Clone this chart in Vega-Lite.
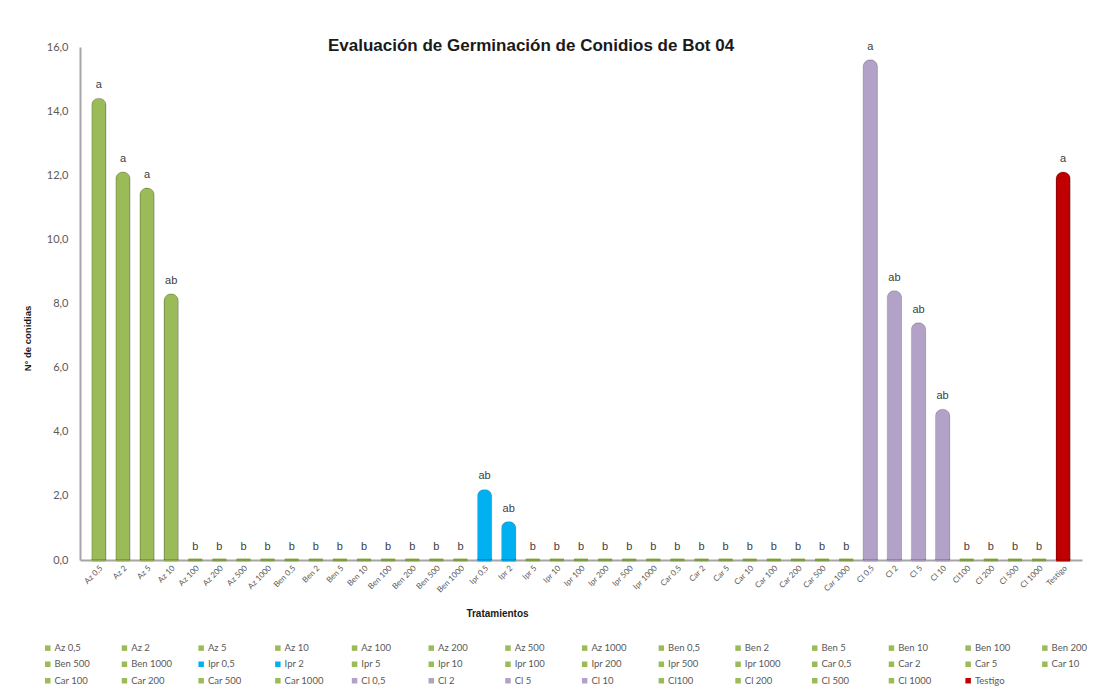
{
  "$schema": "https://vega.github.io/schema/vega-lite/v6.json",
  "autosize": "none",
  "width": 1002,
  "height": 513,
  "padding": {"left": 80, "top": 47, "right": 17, "bottom": 131},
  "background": "white",
  "title": {
    "text": "Evaluación de Germinación de Conidios de Bot 04",
    "font": "Liberation Sans",
    "fontSize": 17,
    "fontWeight": "bold",
    "color": "#1a1a1a",
    "anchor": "middle",
    "dx": -50,
    "offset": -14
  },
  "data": {
    "values": [
      {"t": "Az 0,5", "v": 14.4, "lab": "a"},
      {"t": "Az 2", "v": 12.1, "lab": "a"},
      {"t": "Az 5", "v": 11.6, "lab": "a"},
      {"t": "Az 10", "v": 8.3, "lab": "ab"},
      {"t": "Az 100", "v": 0, "lab": "b"},
      {"t": "Az 200", "v": 0, "lab": "b"},
      {"t": "Az 500", "v": 0, "lab": "b"},
      {"t": "Az 1000", "v": 0, "lab": "b"},
      {"t": "Ben 0,5", "v": 0, "lab": "b"},
      {"t": "Ben 2", "v": 0, "lab": "b"},
      {"t": "Ben 5", "v": 0, "lab": "b"},
      {"t": "Ben 10", "v": 0, "lab": "b"},
      {"t": "Ben 100", "v": 0, "lab": "b"},
      {"t": "Ben 200", "v": 0, "lab": "b"},
      {"t": "Ben 500", "v": 0, "lab": "b"},
      {"t": "Ben 1000", "v": 0, "lab": "b"},
      {"t": "Ipr 0,5", "v": 2.2, "lab": "ab"},
      {"t": "Ipr 2", "v": 1.2, "lab": "ab"},
      {"t": "Ipr 5", "v": 0, "lab": "b"},
      {"t": "Ipr 10", "v": 0, "lab": "b"},
      {"t": "Ipr 100", "v": 0, "lab": "b"},
      {"t": "Ipr 200", "v": 0, "lab": "b"},
      {"t": "Ipr 500", "v": 0, "lab": "b"},
      {"t": "Ipr 1000", "v": 0, "lab": "b"},
      {"t": "Car 0,5", "v": 0, "lab": "b"},
      {"t": "Car 2", "v": 0, "lab": "b"},
      {"t": "Car 5", "v": 0, "lab": "b"},
      {"t": "Car 10", "v": 0, "lab": "b"},
      {"t": "Car 100", "v": 0, "lab": "b"},
      {"t": "Car 200", "v": 0, "lab": "b"},
      {"t": "Car 500", "v": 0, "lab": "b"},
      {"t": "Car 1000", "v": 0, "lab": "b"},
      {"t": "Cl 0,5", "v": 15.6, "lab": "a"},
      {"t": "Cl 2", "v": 8.4, "lab": "ab"},
      {"t": "Cl 5", "v": 7.4, "lab": "ab"},
      {"t": "Cl 10", "v": 4.7, "lab": "ab"},
      {"t": "Cl100", "v": 0, "lab": "b"},
      {"t": "Cl 200", "v": 0, "lab": "b"},
      {"t": "Cl 500", "v": 0, "lab": "b"},
      {"t": "Cl 1000", "v": 0, "lab": "b"},
      {"t": "Testigo", "v": 12.1, "lab": "a"}
    ]
  },
  "encoding": {
    "x": {
      "field": "t",
      "type": "nominal",
      "sort": null,
      "scale": {"paddingInner": 0.407, "paddingOuter": 0.485},
      "axis": {
        "title": "Tratamientos",
        "titleFont": "Liberation Sans",
        "titleFontSize": 10,
        "titleFontWeight": "bold",
        "titleColor": "#1a1a1a",
        "titleX": 417,
        "titleY": 53,
        "titleBaseline": "middle",
        "titleAnchor": "middle",
        "labelAngle": -45,
        "labelFont": "Lato",
        "labelFontSize": 8,
        "labelColor": "#595959",
        "labelPadding": 4,
        "ticks": false,
        "domainColor": "#A6A6A6",
        "domainWidth": 2
      }
    },
    "y": {
      "field": "v",
      "type": "quantitative",
      "scale": {"domain": [0, 16], "nice": false},
      "axis": {
        "values": [0, 2, 4, 6, 8, 10, 12, 14, 16],
        "labelExpr": "replace(format(datum.value, '.1f'), '.', ',')",
        "title": "N° de conidias",
        "titleFont": "Liberation Sans",
        "titleFontSize": 9.5,
        "titleFontWeight": "bold",
        "titleColor": "#1a1a1a",
        "titleX": -53,
        "titleY": 291,
        "titleAngle": -90,
        "titleAlign": "center",
        "titleBaseline": "middle",
        "labelFont": "Lato",
        "labelFontSize": 11,
        "labelColor": "#595959",
        "labelPadding": 12,
        "ticks": false,
        "grid": false,
        "domainColor": "#A6A6A6",
        "domainWidth": 2
      }
    },
    "color": {
      "field": "t",
      "type": "nominal",
      "sort": null,
      "scale": {
        "domain": ["Az 0,5", "Az 2", "Az 5", "Az 10", "Az 100", "Az 200", "Az 500", "Az 1000", "Ben 0,5", "Ben 2", "Ben 5", "Ben 10", "Ben 100", "Ben 200", "Ben 500", "Ben 1000", "Ipr 0,5", "Ipr 2", "Ipr 5", "Ipr 10", "Ipr 100", "Ipr 200", "Ipr 500", "Ipr 1000", "Car 0,5", "Car 2", "Car 5", "Car 10", "Car 100", "Car 200", "Car 500", "Car 1000", "Cl 0,5", "Cl 2", "Cl 5", "Cl 10", "Cl100", "Cl 200", "Cl 500", "Cl 1000", "Testigo"],
        "range": ["#9BBB59", "#9BBB59", "#9BBB59", "#9BBB59", "#9BBB59", "#9BBB59", "#9BBB59", "#9BBB59", "#9BBB59", "#9BBB59", "#9BBB59", "#9BBB59", "#9BBB59", "#9BBB59", "#9BBB59", "#9BBB59", "#00B0F0", "#00B0F0", "#9BBB59", "#9BBB59", "#9BBB59", "#9BBB59", "#9BBB59", "#9BBB59", "#9BBB59", "#9BBB59", "#9BBB59", "#9BBB59", "#9BBB59", "#9BBB59", "#9BBB59", "#9BBB59", "#B3A2C7", "#B3A2C7", "#B3A2C7", "#B3A2C7", "#9BBB59", "#9BBB59", "#9BBB59", "#9BBB59", "#C00000"]
      },
      "legend": {
        "title": null,
        "orient": "none",
        "legendX": -37,
        "legendY": 596,
        "direction": "horizontal",
        "columns": 14,
        "gridAlign": "all",
        "symbolLimit": 0,
        "symbolType": "square",
        "symbolSize": 30,
        "symbolStrokeWidth": 0,
        "labelFont": "Lato",
        "labelFontSize": 9.5,
        "labelColor": "#595959",
        "labelOffset": 2,
        "labelLimit": 80,
        "columnPadding": 23.7,
        "rowPadding": 5.5,
        "symbolOffset": 0
      }
    }
  },
  "layer": [
    {
      "mark": {"type": "tick", "thickness": 3, "size": 14, "opacity": 1},
      "encoding": {
        "y": {"datum": 0}
      }
    },
    {
      "mark": {
        "type": "bar",
        "cornerRadiusTopLeft": 7,
        "cornerRadiusTopRight": 7,
        "strokeWidth": 1,
        "stroke": "#00000030"
      }
    },
    {
      "mark": {
        "type": "text",
        "baseline": "bottom",
        "dy": -8,
        "font": "Liberation Sans",
        "fontSize": 11,
        "color": "#404040"
      },
      "encoding": {
        "text": {"field": "lab"},
        "color": {"value": "#404040"}
      }
    }
  ],
  "config": {
    "view": {"stroke": null}
  }
}
